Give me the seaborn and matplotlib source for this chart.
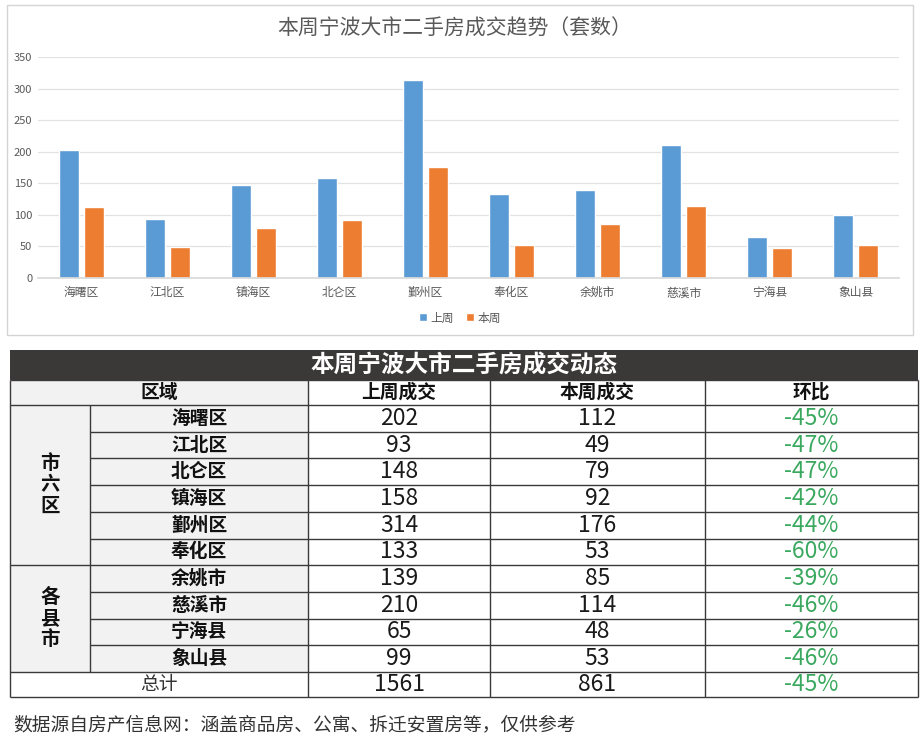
import matplotlib
matplotlib.use("Agg")
import matplotlib.pyplot as plt
import seaborn as sns
import pandas as pd
from matplotlib.patches import Rectangle

# ---------------- data ----------------
chart_title = "本周宁波大市二手房成交趋势（套数）"
chart_districts = ["海曙区", "江北区", "镇海区", "北仑区", "鄞州区",
                   "奉化区", "余姚市", "慈溪市", "宁海县", "象山县"]
chart_last_week = [202, 93, 148, 158, 314, 133, 139, 210, 65, 99]
chart_this_week = [112, 49, 79, 92, 176, 53, 85, 114, 48, 53]
series_names = ["上周", "本周"]
y_ticks = [0, 50, 100, 150, 200, 250, 300, 350]

table_title = "本周宁波大市二手房成交动态"
table_headers = ["区域", "上周成交", "本周成交", "环比"]
group_names = ["市六区", "各县市"]
group_sizes = [6, 4]
table_districts = ["海曙区", "江北区", "北仑区", "镇海区", "鄞州区",
                   "奉化区", "余姚市", "慈溪市", "宁海县", "象山县"]
table_last = [202, 93, 148, 158, 314, 133, 139, 210, 65, 99]
table_this = [112, 49, 79, 92, 176, 53, 85, 114, 48, 53]
table_change = ["-45%", "-47%", "-47%", "-42%", "-44%",
                "-60%", "-39%", "-46%", "-26%", "-46%"]
total_label = "总计"
total_last = 1561
total_this = 861
total_change = "-45%"
footnote = "数据源自房产信息网：涵盖商品房、公寓、拆迁安置房等，仅供参考"

# ---------------- style ----------------
sns.set_theme(style="white")
plt.rcParams['font.family'] = ['Noto Sans CJK SC', 'DejaVu Sans']

W, H = 924, 744
fig = plt.figure(figsize=(W / 100, H / 100), dpi=100)
fig.patch.set_facecolor("white")

# overlay axes in pixel coordinates (frame, table, footnote)
ov = fig.add_axes([0, 0, 1, 1])
ov.set_xlim(0, W)
ov.set_ylim(H, 0)
ov.axis("off")
ov.set_zorder(0)

# chart frame
ov.add_patch(Rectangle((6.5, 5), 906.5, 330, fill=False, edgecolor="#d4d4d4", lw=1))

# ---------------- bar chart ----------------
ax = fig.add_axes([38 / W, (H - 278) / H, (899 - 38) / W, (278 - 57) / H])
ax.set_zorder(1)
ax.patch.set_alpha(0)
df = pd.DataFrame({
    "区域": chart_districts * 2,
    "套数": chart_last_week + chart_this_week,
    "周": [series_names[0]] * len(chart_districts) + [series_names[1]] * len(chart_districts),
})
sns.barplot(data=df, x="区域", y="套数", hue="周", hue_order=series_names,
            palette=["#5b9bd5", "#ed7d31"], width=0.58, gap=0.2,
            saturation=1, ax=ax, legend=True)
ax.set_xlim(-0.5, len(chart_districts) - 0.5)
ax.set_ylim(0, 350)
ax.set_yticks(y_ticks)
ax.set_xlabel("")
ax.set_ylabel("")
ax.yaxis.grid(True, color="#e2e2e2", lw=0.9)
ax.set_axisbelow(True)
for s in ["top", "right", "left"]:
    ax.spines[s].set_visible(False)
ax.spines["bottom"].set_color("#d9d9d9")
ax.tick_params(axis="both", length=0, colors="#595959")
ax.tick_params(axis="y", labelsize=8, pad=4)
ax.tick_params(axis="x", labelsize=8.5, pad=6)
leg = ax.legend(loc="center", bbox_to_anchor=(460 / W, 1 - 318 / H),
                bbox_transform=fig.transFigure, ncol=2, frameon=False,
                fontsize=8.5, handlelength=0.65, handleheight=0.65,
                handletextpad=0.3, columnspacing=1.0)
for t in leg.get_texts():
    t.set_color("#595959")

fig.text(455 / W, 1 - 29 / H, chart_title, ha="center", va="center",
         fontsize=15, color="#595959")

# ---------------- table ----------------
L, R = 10, 918
col_x = [10, 90, 308, 490, 705, 918]
title_top, head_top, body_top = 350, 380, 405
row_h = (672 - 405) / 10
total_top = body_top + row_h * len(table_districts)
bottom = total_top + (697 - 672)
line_c = "#3a3a3a"
grey = "#f2f2f2"

ov.add_patch(Rectangle((L, title_top), R - L, head_top - title_top, facecolor="#3b3838", edgecolor="none"))
ov.text((L + R) / 2, (title_top + head_top) / 2 + 1, table_title, ha="center", va="center",
        color="white", fontsize=17, fontweight="bold")

# header row
ov.add_patch(Rectangle((col_x[0], head_top), col_x[2] - col_x[0], body_top - head_top,
                       facecolor=grey, edgecolor="none"))
head_centers = [(col_x[0] + col_x[2]) / 2, (col_x[2] + col_x[3]) / 2,
                (col_x[3] + col_x[4]) / 2, (col_x[4] + col_x[5]) / 2]
for cx, txt in zip(head_centers, table_headers):
    ov.text(cx, (head_top + body_top) / 2, txt, ha="center", va="center",
            fontsize=13.5, fontweight="bold", color="#111111")

# grey area for group & district columns
ov.add_patch(Rectangle((col_x[0], body_top), col_x[2] - col_x[0], total_top - body_top,
                       facecolor=grey, edgecolor="none"))

for i, (d, a, b, c) in enumerate(zip(table_districts, table_last, table_this, table_change)):
    cy = body_top + row_h * (i + 0.5)
    ov.text((col_x[1] + col_x[2]) / 2, cy, d, ha="center", va="center",
            fontsize=13.5, fontweight="bold", color="#111111")
    ov.text(head_centers[1], cy, str(a), ha="center", va="center", fontsize=16.5, color="#1a1a1a")
    ov.text(head_centers[2], cy, str(b), ha="center", va="center", fontsize=16.5, color="#1a1a1a")
    ov.text(head_centers[3], cy, c, ha="center", va="center", fontsize=16.5, color="#3aa85e")

# group labels
start = 0
for g, n in zip(group_names, group_sizes):
    cy = body_top + row_h * (start + n / 2)
    ov.text((col_x[0] + col_x[1]) / 2, cy, "\n".join(g), ha="center", va="center",
            fontsize=14, fontweight="bold", color="#111111", linespacing=1.15)
    start += n

# total row
cy = total_top + (bottom - total_top) / 2
ov.text(head_centers[0], cy, total_label, ha="center", va="center", fontsize=13.5, color="#333333")
ov.text(head_centers[1], cy, str(total_last), ha="center", va="center", fontsize=16.5, color="#1a1a1a")
ov.text(head_centers[2], cy, str(total_this), ha="center", va="center", fontsize=16.5, color="#1a1a1a")
ov.text(head_centers[3], cy, total_change, ha="center", va="center", fontsize=16.5, color="#3aa85e")

# grid lines
lw = 1.0
ov.hlines([head_top, body_top, total_top, bottom], L, R, color=line_c, lw=lw)
boundaries = []
acc = 0
for n in group_sizes[:-1]:
    acc += n
    boundaries.append(acc)
for i in range(1, len(table_districts)):
    y = body_top + row_h * i
    x0 = L if i in boundaries else col_x[1]
    ov.hlines(y, x0, R, color=line_c, lw=lw)
ov.vlines([L, R, col_x[2], col_x[3], col_x[4]], head_top, bottom, color=line_c, lw=lw)
ov.vlines(col_x[1], body_top, total_top, color=line_c, lw=lw)

# footnote
ov.text(13, 725, footnote, ha="left", va="center", fontsize=13.5, color="#333333")

fig.savefig("out.png", dpi=100, facecolor="white")
